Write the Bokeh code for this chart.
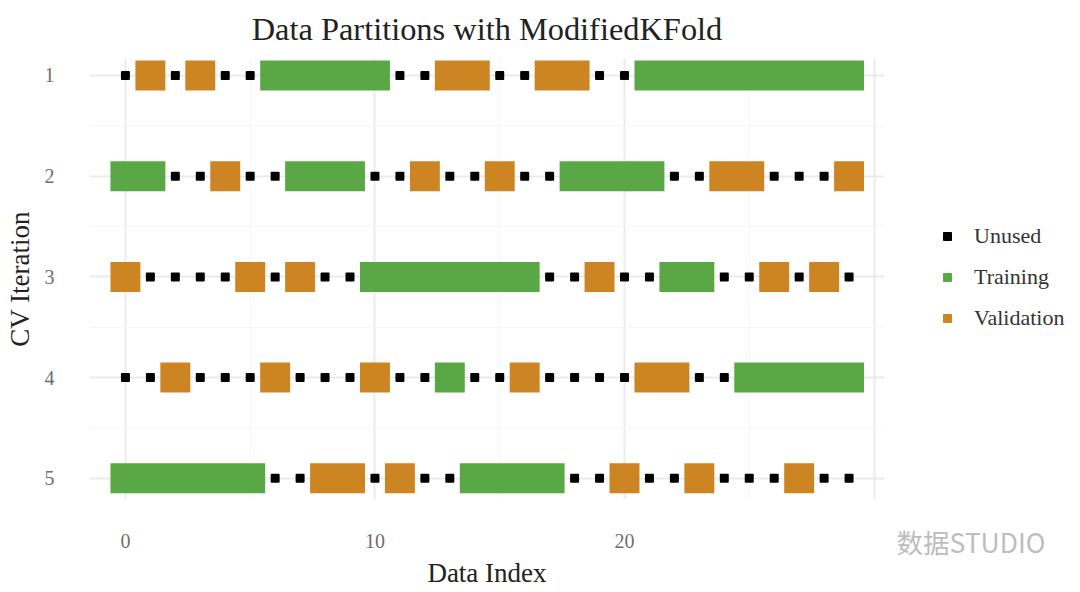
import math
from itertools import groupby
from bokeh.plotting import figure
from bokeh.layouts import row
from bokeh.embed import file_html
from bokeh.resources import INLINE
from bokeh.models import (Range1d, FixedTicker, Legend, LegendItem, Label, PolyAnnotation, ColumnDataSource)

title_text = "Data Partitions with ModifiedKFold"
x_label = "Data Index"
y_label = "CV Iteration"
watermark = "数据STUDIO"
folds = [1, 2, 3, 4, 5]
x_ticks = [0, 10, 20, 30]
x_minor = [-5, 5, 15, 25]
x_tick_labels = {0: "0", 10: "10", 20: "20", 30: ""}
legend_names = ["Unused", "Training", "Validation"]

training = [
    [6, 7, 8, 9, 10, 21, 22, 23, 24, 25, 26, 27, 28, 29],
    [0, 1, 7, 8, 9, 18, 19, 20, 21],
    [10, 11, 12, 13, 14, 15, 16, 22, 23],
    [13, 25, 26, 27, 28, 29],
    [0, 1, 2, 3, 4, 5, 14, 15, 16, 17],
]
validation = [
    [1, 3, 13, 14, 17, 18],
    [4, 12, 15, 24, 25, 29],
    [0, 5, 7, 19, 26, 28],
    [2, 6, 10, 16, 21, 22],
    [8, 9, 11, 20, 23, 27],
]
unused = [
    [0, 2, 4, 5, 11, 12, 15, 16, 19, 20],
    [2, 3, 5, 6, 10, 11, 13, 14, 16, 17, 22, 23, 26, 27, 28],
    [1, 2, 3, 4, 6, 8, 9, 17, 18, 20, 21, 24, 25, 27, 29],
    [0, 1, 3, 4, 5, 7, 8, 9, 11, 12, 14, 15, 17, 18, 19, 20, 23, 24],
    [6, 7, 10, 12, 13, 18, 19, 21, 22, 24, 25, 26, 28, 29],
]

GREEN = "#5aa845"
ORANGE = "#cc8522"
FONT = "Liberation Serif"


def runs(groups):
    """Join neighbouring indices of a fold into one block."""
    xs, ys, ws = [], [], []
    for fold, idx in zip(folds, groups):
        for _, g in groupby(enumerate(idx), lambda t: t[1] - t[0]):
            members = [m for _, m in g]
            xs.append((members[0] + members[-1]) / 2)
            ys.append(fold)
            ws.append(members[-1] - members[0] + 1.2)
    return ColumnDataSource(dict(x=xs, y=ys, w=ws))


def flat(groups):
    xs, ys = [], []
    for fold, idx in zip(folds, groups):
        xs += idx
        ys += [fold] * len(idx)
    return ColumnDataSource(dict(x=xs, y=ys))


p = figure(width=890, height=590, output_backend="svg", toolbar_location=None,
           x_range=Range1d(-1.44, 30.42), y_range=Range1d(5.21, 0.832),
           min_border_left=89, min_border_right=6, min_border_top=57, min_border_bottom=91,
           title=title_text)
p.outline_line_color = None
p.background_fill_color = "white"

p.title.align = "center"
p.title.vertical_align = "top"
p.title.text_font = FONT
p.title.text_font_style = "normal"
p.title.text_font_size = "32.4px"
p.title.text_color = "#222222"
p.title.offset = 0
p.title.standoff = 20

p.xaxis.ticker = FixedTicker(ticks=x_ticks, minor_ticks=x_minor)
p.yaxis.ticker = FixedTicker(ticks=folds, minor_ticks=[1.5, 2.5, 3.5, 4.5])
p.xaxis.major_label_overrides = x_tick_labels
for ax in (p.xaxis[0], p.yaxis[0]):
    ax.axis_line_color = None
    ax.major_tick_line_color = None
    ax.minor_tick_line_color = None
    ax.major_label_text_font = FONT
    ax.major_label_text_font_size = "20px"
    ax.major_label_text_color = "#6e6e6e"
    ax.axis_label_text_font = FONT
    ax.axis_label_text_font_size = "27px"
    ax.axis_label_text_font_style = "normal"
    ax.axis_label_text_color = "#222222"
p.xaxis.axis_label = x_label
p.yaxis.axis_label = y_label
p.xaxis.major_label_standoff = 28
p.yaxis.major_label_standoff = 29
p.xaxis.axis_label_standoff = 7
p.yaxis.axis_label_standoff = 7

for g in (p.xgrid[0], p.ygrid[0]):
    g.grid_line_color = "#ebebeb"
    g.grid_line_width = 2
    g.minor_grid_line_color = "#f6f6f6"
    g.minor_grid_line_width = 1

p.rect("x", "y", source=runs(training), width="w", height=30, height_units="screen",
       fill_color=GREEN, line_color=None)
p.rect("x", "y", source=runs(validation), width="w", height=30, height_units="screen",
       fill_color=ORANGE, line_color=None)
p.rect("x", "y", source=flat(unused), width=9, height=9, width_units="screen", height_units="screen",
       fill_color="black", line_color=None, border_radius=1)


def icon_bubble(cx, cy, rx, ry, line):
    """An oval outline of the watermark's icon, in canvas pixels, in the panel below the plot."""
    angles = [2 * math.pi * k / 36 for k in range(36)]
    p.add_layout(PolyAnnotation(xs=[cx + rx * math.cos(a) for a in angles],
                                ys=[cy + ry * math.sin(a) for a in angles],
                                xs_units="canvas", ys_units="canvas",
                                fill_color="white", fill_alpha=1, line_color=line, line_width=1), "below")


icon_bubble(861, 540, 13, 12, "#cccccc")
icon_bubble(875, 549, 12, 11, "#bbbbbb")

q = figure(width=186, height=590, output_backend="svg", toolbar_location=None,
           x_range=Range1d(0, 186), y_range=Range1d(0, 590), x_axis_type=None, y_axis_type=None,
           min_border=0)
q.outline_line_color = None
nan = float("nan")
l_u = q.scatter([nan], [nan], marker="square", size=11, color="black")
l_t = q.scatter([nan], [nan], marker="square", size=11, color=GREEN)
l_v = q.scatter([nan], [nan], marker="square", size=11, color=ORANGE)
legend = Legend(items=[LegendItem(label=n, renderers=[r]) for n, r in zip(legend_names, [l_u, l_t, l_v])],
                location=(47, 168), orientation="vertical", border_line_color=None,
                background_fill_alpha=0, margin=0, padding=0, spacing=15,
                glyph_width=20, glyph_height=20, label_standoff=17,
                label_text_font=FONT, label_text_font_size="22px", label_text_color="#333333")
q.add_layout(legend, "center")
q.add_layout(Label(x=6, y=-22, x_units="screen", y_units="screen", text=watermark,
                   text_font="Noto Sans CJK SC", text_font_size="26.5px", text_color="#bdbdbd"), "below")

open("out.html", "w").write(file_html(row(p, q, spacing=0), INLINE))
